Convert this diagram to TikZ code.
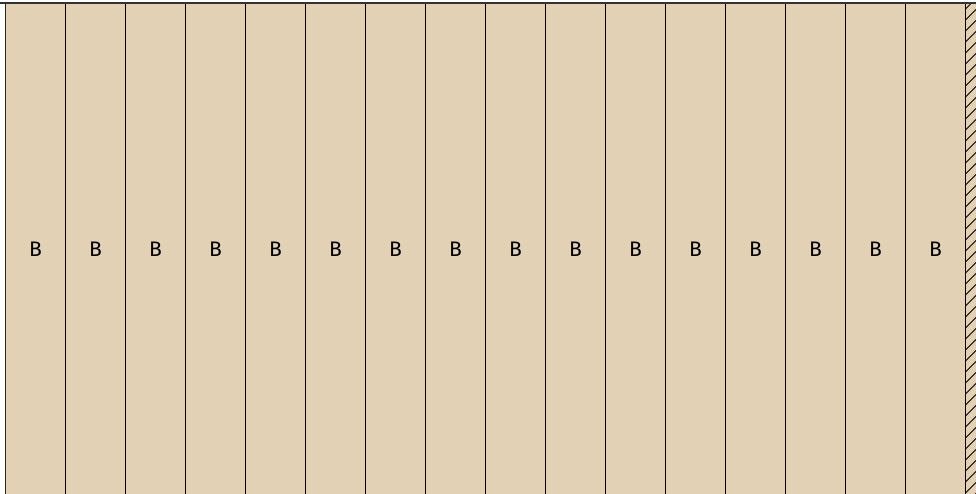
\documentclass[tikz,border=0pt]{standalone}
\usepackage{fontspec}
\setmainfont{Fira Sans}
\usepackage{xcolor}
\usepackage{tikz}
\usetikzlibrary{positioning,calc}
\definecolor{wood}{RGB}{226,209,180}

\begin{document}
\begin{tikzpicture}[x=1pt, y=1pt, font=\fontsize{21}{24}\selectfont,
    board/.style={draw=black, line width=1.3pt, fill=wood, minimum width=60pt, minimum height=492pt, inner sep=0pt, outer sep=0pt}]
  \useasboundingbox (0,0) rectangle (976,493);
  % hatched wall on the right
  \fill[wood] (965.5,-5) rectangle (980,489.5);
  \begin{scope}
    \clip (965.5,-5) rectangle (976,489.5);
    \foreach \k in {-2,...,46}
      { \draw[line width=0.8pt] (965.5,\k*11) -- ++(16,16); }
  \end{scope}
  % boards
  \node[board, anchor=north west] (b1) at (5.5,489.5) {B};
  \foreach \i [remember=\i as \j (initially 1)] in {2,...,16}
    { \node[board, right=0pt of b\j] (b\i) {B}; }
  \draw[line width=2pt, black!80] (0,489.5) -- (976,489.5);
  \draw[line width=1.8pt, black!85] (b1.north west) -- (b1.south west);
\end{tikzpicture}
\end{document}
